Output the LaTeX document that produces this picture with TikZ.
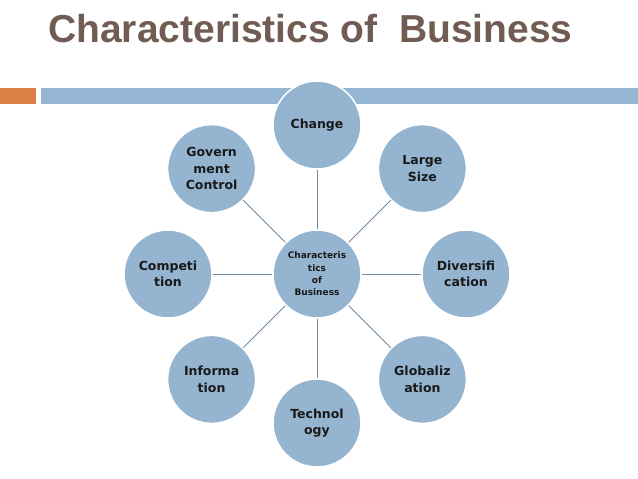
\documentclass[tikz,border=0pt]{standalone}
\usepackage{fontspec}
\setmainfont{Liberation Sans}
\newfontfamily\bubblefont{DejaVu Sans}
\usepackage{tikz}
\usetikzlibrary{positioning}
\definecolor{titlecol}{RGB}{112,92,83}
\definecolor{barorange}{RGB}{221,128,71}
\definecolor{barblue}{RGB}{148,182,210}
\definecolor{bubblecol}{RGB}{148,180,208}
\definecolor{spokecol}{RGB}{115,140,165}

\begin{document}
\begin{tikzpicture}[x=1pt, y=-1pt,
  title/.style={font=\fontsize{39}{44}\selectfont\bfseries, text=titlecol,
                anchor=base west, inner sep=0pt},
  bubble/.style={circle, fill=bubblecol, draw=white, line width=1.5pt,
                 minimum size=88pt, inner sep=0pt, align=center,
                 text=black!90,
                 font=\bubblefont\fontsize{12.5}{16.5}\selectfont\bfseries},
  hubbox/.style={bubble, font=\bubblefont\fontsize{9}{12.3}\selectfont\bfseries},
  spoke/.style={draw=spokecol, line width=1pt},
]
\useasboundingbox (0,0) rectangle (638,479);

% ---- Title ----
\node[title] (ttl) at (48,42) {Characteristics of\ \ Business};

% ---- Header bars ----
\fill[barorange] (0,88) rectangle (36,104);
\fill[barblue] (41,88) rectangle (638,104);

% ---- Hub ----
\node[hubbox] (hub) at (317,274) {Characteris\\tics\\of\\Business};

% ---- Outer bubbles ----
\node[bubble] (chg) at (317,125)     {Change};
\node[bubble] (big) at (422.4,168.6) {Large\\Size};
\node[bubble] (div) at (466,274)     {Diversifi\\cation};
\node[bubble] (glo) at (422.4,379.4) {Globaliz\\ation};
\node[bubble] (tec) at (317,423)     {Technol\\ogy};
\node[bubble] (inf) at (211.6,379.4) {Informa\\tion};
\node[bubble] (cmp) at (168,274)     {Competi\\tion};
\node[bubble] (gov) at (211.6,168.6) {Govern\\ment\\Control};

% ---- Spokes ----
\draw[spoke] (hub) -- (chg);
\draw[spoke] (hub) -- (big);
\draw[spoke] (hub) -- (div);
\draw[spoke] (hub) -- (glo);
\draw[spoke] (hub) -- (tec);
\draw[spoke] (hub) -- (inf);
\draw[spoke] (hub) -- (cmp);
\draw[spoke] (hub) -- (gov);

\end{tikzpicture}
\end{document}
